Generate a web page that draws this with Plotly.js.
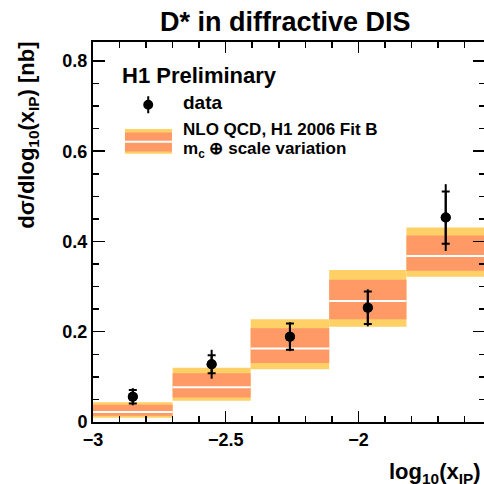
<!DOCTYPE html>
<html>
<head>
<meta charset="utf-8">
<script src="https://cdn.plot.ly/plotly-3.0.1.min.js"></script>
<style>
html,body{margin:0;padding:0;overflow:hidden;background:#fff;width:484px;height:484px;}
#chart{width:488px;height:484px;}
</style>
</head>
<body>
<div id="chart"></div>
<script>
// ---- data ----
const binEdges   = [-3.0, -2.700, -2.406, -2.110, -1.819, -1.523];
const dataValues = [0.056, 0.128, 0.189, 0.253, 0.453];
const statErr    = [0.015, 0.020, 0.029, 0.036, 0.058];
const totalErr   = [0.019, 0.032, 0.032, 0.041, 0.074];
const nloCentral = [0.022, 0.077, 0.163, 0.268, 0.368];
const nloInnerLo = [0.0137, 0.0545, 0.131, 0.2275, 0.335];
const nloInnerHi = [0.038, 0.108, 0.2075, 0.315, 0.413];
const nloOuterLo = [0.0093, 0.047, 0.117, 0.211, 0.322];
const nloOuterHi = [0.0435, 0.120, 0.2275, 0.337, 0.431];

// ---- derived ----
const centers = binEdges.slice(0, -1).map((e, i) => (e + binEdges[i + 1]) / 2);
const widths  = binEdges.slice(0, -1).map((e, i) => binEdges[i + 1] - e);
const lineX = [], lineY = [];
nloCentral.forEach((c, i) => { lineX.push(binEdges[i], binEdges[i + 1], null); lineY.push(c, c, null); });

const YELLOW = 'rgb(255,208,102)';
const ORANGE = 'rgb(255,153,102)';
const FONT = 'Liberation Sans, Arial, Helvetica, sans-serif';

const traces = [
  { type: 'bar', x: centers, width: widths, base: nloOuterLo,
    y: nloOuterHi.map((h, i) => h - nloOuterLo[i]),
    marker: { color: YELLOW, line: { width: 0 } }, hoverinfo: 'skip', showlegend: false },
  { type: 'bar', x: centers, width: widths, base: nloInnerLo,
    y: nloInnerHi.map((h, i) => h - nloInnerLo[i]),
    marker: { color: ORANGE, line: { width: 0 } }, hoverinfo: 'skip', showlegend: false },
  { type: 'scatter', mode: 'lines', x: lineX, y: lineY,
    line: { color: 'white', width: 2 }, hoverinfo: 'skip', showlegend: false },
  { type: 'scatter', mode: 'markers', x: centers, y: dataValues,
    marker: { color: 'black', size: 10 },
    error_y: { type: 'data', array: totalErr, visible: true, color: 'black', thickness: 2, width: 0 },
    showlegend: false },
  { type: 'scatter', mode: 'markers', x: centers, y: dataValues,
    marker: { color: 'black', size: 10 },
    error_y: { type: 'data', array: statErr, visible: true, color: 'black', thickness: 2, width: 4 },
    showlegend: false }
];

// plot-area helpers (pixel -> paper) used for legend / text placement
const PL = 93, PW = 392.5, PT = 42.3, PB = 421.9, PH = PB - PT;
const xp = px => (px - PL) / PW;
const yp = py => (PB - py) / PH;

const layout = {
  width: 488, height: 484,
  margin: { l: PL, r: 488 - PL - PW, t: PT, b: 484 - PB, pad: 0 },
  paper_bgcolor: 'white', plot_bgcolor: 'white',
  barmode: 'overlay', showlegend: false,
  font: { family: FONT, color: 'black' },
  xaxis: {
    range: [-3, binEdges[binEdges.length - 1]], tick0: -3, dtick: 0.5,
    ticks: 'inside', ticklen: 11, tickwidth: 1.5, tickcolor: 'black',
    showline: true, linewidth: 2, linecolor: 'black', mirror: 'ticks',
    showgrid: false, zeroline: false,
    tickfont: { family: FONT, size: 18, weight: 700, color: 'black' },
    minor: { dtick: 0.1, tick0: -3, ticks: 'inside', ticklen: 6, tickwidth: 1.5, tickcolor: 'black', showgrid: false }
  },
  yaxis: {
    range: [0, 0.842], tick0: 0, dtick: 0.2,
    ticks: 'inside', ticklen: 12, tickwidth: 1.5, tickcolor: 'black',
    showline: true, linewidth: 2, linecolor: 'black', mirror: 'ticks',
    showgrid: false, zeroline: false,
    tickfont: { family: FONT, size: 18, weight: 700, color: 'black' },
    minor: { dtick: 0.05, tick0: 0, ticks: 'inside', ticklen: 6, tickwidth: 1.5, tickcolor: 'black', showgrid: false }
  },
  shapes: [
    // legend: band symbol
    { type: 'rect', xref: 'paper', yref: 'paper', x0: xp(125), x1: xp(172), y0: yp(154), y1: yp(129.3),
      fillcolor: YELLOW, line: { width: 0 } },
    { type: 'rect', xref: 'paper', yref: 'paper', x0: xp(125), x1: xp(172), y0: yp(151.7), y1: yp(132.7),
      fillcolor: ORANGE, line: { width: 0 } },
    { type: 'line', xref: 'paper', yref: 'paper', x0: xp(125), x1: xp(172), y0: yp(142), y1: yp(142),
      line: { color: 'white', width: 2 } },
    // legend: data symbol
    { type: 'line', xref: 'paper', yref: 'paper', x0: xp(148.3), x1: xp(148.3), y0: yp(96.5), y1: yp(113.5),
      line: { color: 'black', width: 2 } },
    { type: 'circle', xref: 'paper', yref: 'paper', x0: xp(143.3), x1: xp(153.3), y0: yp(110), y1: yp(100),
      fillcolor: 'black', line: { color: 'black', width: 0 } }
  ],
  annotations: [
    { text: 'D* in diffractive DIS', xref: 'paper', yref: 'paper', x: xp(285.5), y: yp(22.5),
      xanchor: 'center', yanchor: 'middle', showarrow: false,
      font: { family: FONT, size: 27, weight: 700 } },
    { text: 'H1 Preliminary', xref: 'paper', yref: 'paper', x: xp(120.5), y: yp(75.5),
      xanchor: 'left', yanchor: 'middle', showarrow: false,
      font: { family: FONT, size: 22, weight: 700 } },
    { text: 'data', xref: 'paper', yref: 'paper', x: xp(181), y: yp(103.2),
      xanchor: 'left', yanchor: 'middle', showarrow: false,
      font: { family: FONT, size: 19, weight: 700 } },
    { text: 'NLO QCD, H1 2006 Fit B', xref: 'paper', yref: 'paper', x: xp(181), y: yp(129.5),
      xanchor: 'left', yanchor: 'middle', showarrow: false,
      font: { family: FONT, size: 17, weight: 700 } },
    { text: 'm<sub>c</sub> ⊕ scale variation', xref: 'paper', yref: 'paper', x: xp(181), y: yp(150),
      xanchor: 'left', yanchor: 'middle', showarrow: false,
      font: { family: FONT, size: 17, weight: 700 } },
    { text: 'dσ/dlog<sub>10</sub>(x<sub>IP</sub>) [nb]', xref: 'paper', yref: 'paper', x: xp(28), y: 1.005,
      xanchor: 'center', yanchor: 'top', textangle: -90, showarrow: false,
      font: { family: FONT, size: 22, weight: 700 } },
    { text: 'log<sub>10</sub>(x<sub>IP</sub>)', xref: 'paper', yref: 'paper', x: xp(483), y: yp(473),
      xanchor: 'right', yanchor: 'middle', showarrow: false,
      font: { family: FONT, size: 22, weight: 700 } }
  ]
};

Plotly.newPlot('chart', traces, layout, { displayModeBar: false, staticPlot: true });
</script>
</body>
</html>
